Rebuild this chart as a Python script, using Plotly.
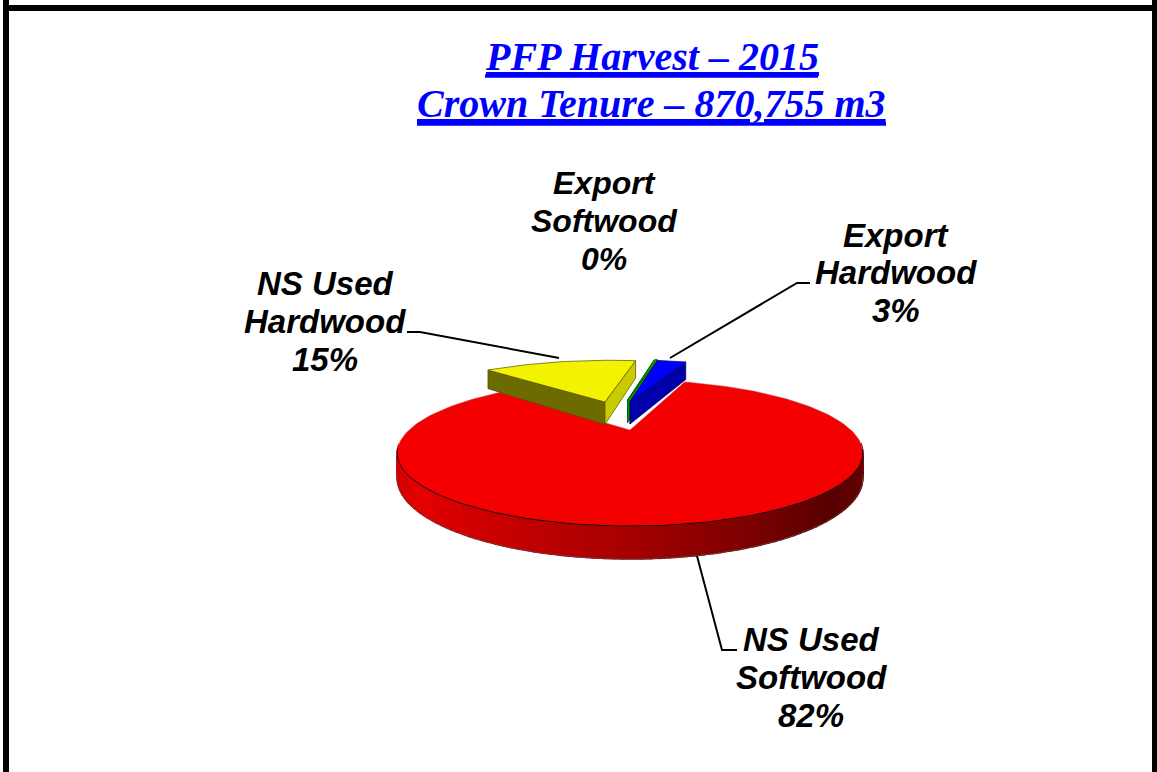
import math
import plotly.graph_objects as go

# ---- data
categories = ["NS Used Softwood", "NS Used Hardwood", "Export Softwood", "Export Hardwood"]
values = [82.1, 14.8, 0.3, 2.8]
title_lines = ["PFP Harvest – 2015", "Crown Tenure – 870,755 m3"]

# ---- styles
top_colors = ["#F50000", "#F3F300", "#00C000", "#0000FF"]
left_wall = [None, "#6B6B00", "#00A000", "#0000AA"]
right_wall = [None, "#CACA00", "#00A000", "#0000AA"]
edge_colors = ["#300000", "#505000", "#005000", "#000060"]
shift_u = [0.0, -0.131, -0.013, 0.0]
shift_v = [0.0, 0.491, 0.53, 0.50]
radius = [1.0, 1.10, 1.10, 1.10]
turn = [0.0, 1.3, 1.8, 1.2]
depth_scale = [1.0, 1.15, 1.15, 1.15]
label_sizes = [33, 33, 32, 33]

CX, CY, RX, SY, K, DEPTH = 630.0, 430.0, 221.0, 65.8, 0.315, 22.6
START_DEG = 18.7


def project(u, v, z=0.0):
    den = 1 + K * v
    return CX + RX * u / den, CY - SY * v / den + DEPTH * z / den


def poly(fig, pts, fill, line=None, width=0.7):
    fig.add_trace(go.Scatter(
        x=[p[0] for p in pts] + [pts[0][0]],
        y=[p[1] for p in pts] + [pts[0][1]],
        mode="lines", fill="toself", fillcolor=fill,
        line=dict(color=line or fill, width=width if line else 1.4),
        hoverinfo="skip", showlegend=False))


def wall_color(t):
    # t: -1 left ... +1 right along the front of the pie
    stops = [(-1.0, 205), (-0.75, 228), (0.0, 165), (0.7, 88), (1.0, 105)]
    for (a, ca), (b, cb) in zip(stops, stops[1:]):
        if a <= t <= b:
            return "rgb(%d,0,0)" % round(ca + (cb - ca) * (t - a) / (b - a))
    return "rgb(105,0,0)"


total = sum(values)
spans = [v / total * 360 for v in values]
starts = []
a = START_DEG
for s in spans:
    starts.append(a)
    a += s

fig = go.Figure()

# big slice: rim, top face, outline
s0, w0 = starts[0], spans[0]
N = 180
arc = [math.radians(s0 + w0 * i / N) for i in range(N + 1)]
for i in range(N):
    a1, a2 = arc[i], arc[i + 1]
    if math.cos((a1 + a2) / 2) > -0.2:
        continue
    p1, p2 = (math.sin(a1), math.cos(a1)), (math.sin(a2), math.cos(a2))
    poly(fig, [project(*p1), project(*p2), project(*p2, 1), project(*p1, 1)],
         wall_color(math.sin((a1 + a2) / 2)))
top = [project(0, 0)] + [project(math.sin(t), math.cos(t)) for t in arc]
poly(fig, top, top_colors[0], "#B06060", 0.5)
front = [t for t in arc if math.cos(t) < -0.25]
fig.add_trace(go.Scatter(
    x=[project(math.sin(t), math.cos(t))[0] for t in front],
    y=[project(math.sin(t), math.cos(t))[1] for t in front],
    mode="lines", line=dict(color="#200000", width=1), hoverinfo="skip", showlegend=False))
fig.add_trace(go.Scatter(
    x=[project(math.sin(t), math.cos(t), 1)[0] for t in front],
    y=[project(math.sin(t), math.cos(t), 1)[1] for t in front],
    mode="lines", line=dict(color="#604040", width=0.8), hoverinfo="skip", showlegend=False))

# pulled-out slices
for i in (1, 2, 3):
    du, dv, r, h = shift_u[i], shift_v[i], radius[i], depth_scale[i]
    ang = [math.radians(starts[i] + turn[i] + spans[i] * j / 24) for j in range(25)]
    rim = [(du + r * math.sin(t), dv + r * math.cos(t)) for t in ang]
    apex = (du, dv)
    poly(fig, [project(*apex), project(*rim[0]), project(*rim[0], h), project(*apex, h)],
         left_wall[i], edge_colors[i])
    poly(fig, [project(*apex), project(*rim[-1]), project(*rim[-1], h), project(*apex, h)],
         right_wall[i], edge_colors[i])
    poly(fig, [project(*apex)] + [project(*p) for p in rim], top_colors[i], edge_colors[i])

# ---- leader lines
leaders = [
    ([697, 722, 737], [556, 650, 650]),
    ([407, 420, 559], [332, 332, 358]),
    ([810, 797, 670], [283, 283, 358]),
]
for lx, ly in leaders:
    fig.add_trace(go.Scatter(x=lx, y=ly, mode="lines", line=dict(color="black", width=2),
                             hoverinfo="skip", showlegend=False))

# ---- labels (one annotation per text line, to hold the tight spacing)
label_pos = [(811, [639, 677, 715]), (325, [283, 321, 359]),
             (604, [183, 221, 259]), (896, [235, 272, 310])]
annotations = []
for name, val, (lx, lys), sz in zip(categories, values, label_pos, label_sizes):
    head, tail = name.rsplit(" ", 1)
    for txt, ly in zip([head, tail, f"{round(val / total * 100)}%"], lys):
        annotations.append(dict(x=lx, y=ly, xref="x", yref="y", text=f"<b><i>{txt}</i></b>",
                                showarrow=False, xanchor="center", yanchor="middle",
                                font=dict(family="Liberation Sans", size=sz, color="black")))
for txt, ly in zip(title_lines, [56.5, 103.5]):
    annotations.append(dict(x=651.5, y=ly, xref="x", yref="y", text=f"<b><i>{txt}</i></b>",
                            showarrow=False, xanchor="center", yanchor="middle",
                            font=dict(family="Liberation Serif", size=40, color="#0000FF",
                                      lineposition="under")))

frame = [(3, 0, 9, 772), (1152, 0, 1160, 772), (3, 5, 1160, 11)]
shapes = [dict(type="rect", xref="x", yref="y", x0=a, y0=b, x1=c, y1=d,
               fillcolor="black", line=dict(width=0)) for a, b, c, d in frame]
# thicker title underlines, as in the reference
for x0, x1, yy in [(485, 818, 76), (417, 886, 124)]:
    shapes.append(dict(type="line", xref="x", yref="y", x0=x0, x1=x1, y0=yy, y1=yy,
                       line=dict(color="#0000FF", width=3.5)))

fig.update_layout(
    width=1157, height=772, margin=dict(l=0, r=0, t=0, b=0),
    paper_bgcolor="white", plot_bgcolor="white", showlegend=False,
    xaxis=dict(range=[0, 1157], visible=False, fixedrange=True),
    yaxis=dict(range=[772, 0], visible=False, fixedrange=True),
    annotations=annotations, shapes=shapes)

fig.write_html("out.html", config={"displayModeBar": False},
               post_script="document.body.style.margin='0';document.body.style.overflow='hidden';")
